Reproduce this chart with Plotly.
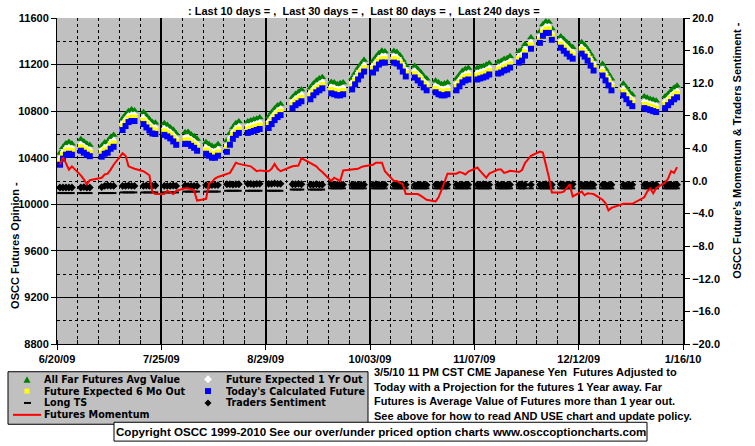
import pandas as pd
import plotly.graph_objects as go

# sessions on the chart (exchange holidays skipped)
FIRST_SESSION = "2009-06-22"
LAST_SESSION = "2010-01-15"
HOLIDAYS = ["2009-07-03", "2009-09-07", "2009-11-26", "2009-12-25", "2010-01-01"]

# left axis series, one value per session, grouped by week
TODAYS_FUTURE = [
    10340, 10392, 10426, 10434, 10426,
    10460, 10443, 10426, 10413, 10409,
    10434, 10443, 10477, 10494,
    10638, 10672, 10706, 10715, 10715,
    10689, 10660, 10634, 10608, 10604,
    10596, 10583, 10566, 10540, 10511,
    10519, 10519, 10502, 10485, 10460,
    10434, 10417, 10400, 10400, 10417,
    10451, 10511, 10562, 10596, 10613,
    10613, 10621, 10630, 10638, 10647,
    10655, 10689, 10723, 10749, 10766,
    10825, 10851, 10868, 10885,
    10902, 10936, 10962, 10979, 10996,
    10953, 10945, 10936, 10936, 10945,
    10987, 11030, 11072, 11106, 11140,
    11132, 11166, 11200, 11217, 11217,
    11217, 11209, 11183, 11140, 11098,
    11089, 11064, 11038, 11004, 10979,
    10962, 10945, 10936, 10936, 10945,
    10979, 11013, 11047, 11064, 11072,
    11072, 11081, 11089, 11098, 11115,
    11123, 11132, 11149, 11157, 11174,
    11217, 11234, 11277, 11336,
    11387, 11447, 11472, 11472, 11413,
    11345, 11319, 11294, 11268, 11251,
    11294, 11268, 11234, 11191, 11149,
    11106, 11064, 11021, 10979,
    10936, 10902, 10868, 10843,
    10826, 10817, 10809, 10800, 10792,
    10826, 10851, 10877, 10902, 10919,
]
SIX_MO_OUT = [
    10370, 10422, 10455, 10463, 10456,
    10490, 10472, 10455, 10443, 10438,
    10463, 10472, 10507, 10523,
    10668, 10702, 10735, 10745, 10744,
    10718, 10690, 10663, 10638, 10633,
    10626, 10612, 10596, 10570, 10540,
    10548, 10549, 10531, 10514, 10490,
    10463, 10446, 10430, 10429, 10446,
    10480, 10540, 10592, 10625, 10642,
    10642, 10650, 10659, 10668, 10676,
    10684, 10718, 10752, 10778, 10795,
    10854, 10880, 10897, 10914,
    10931, 10965, 10991, 11008, 11025,
    10982, 10974, 10965, 10965, 10974,
    11016, 11059, 11101, 11135, 11169,
    11161, 11195, 11229, 11246, 11246,
    11246, 11238, 11212, 11169, 11127,
    11118, 11093, 11067, 11033, 11008,
    10991, 10974, 10965, 10965, 10974,
    11008, 11042, 11076, 11093, 11101,
    11101, 11110, 11118, 11127, 11144,
    11152, 11161, 11178, 11186, 11203,
    11246, 11263, 11306, 11365,
    11416, 11476, 11501, 11501, 11442,
    11374, 11348, 11323, 11297, 11280,
    11323, 11297, 11263, 11220, 11178,
    11135, 11093, 11050, 11008,
    10965, 10931, 10897, 10872,
    10855, 10846, 10838, 10829, 10821,
    10855, 10880, 10906, 10931, 10948,
]
ONE_YR_OUT = [
    10398, 10450, 10484, 10492, 10483,
    10518, 10500, 10484, 10470, 10466,
    10490, 10500, 10535, 10552,
    10695, 10730, 10763, 10772, 10772,
    10746, 10718, 10692, 10665, 10660,
    10653, 10640, 10623, 10598, 10568,
    10576, 10576, 10560, 10542, 10518,
    10490, 10474, 10458, 10457, 10474,
    10508, 10568, 10620, 10653, 10670,
    10670, 10678, 10687, 10695, 10704,
    10712, 10746, 10780, 10806, 10823,
    10882, 10908, 10925, 10942,
    10959, 10993, 11019, 11036, 11053,
    11010, 11002, 10993, 10993, 11002,
    11044, 11087, 11129, 11163, 11197,
    11189, 11223, 11257, 11274, 11274,
    11274, 11266, 11240, 11197, 11155,
    11146, 11121, 11095, 11061, 11036,
    11019, 11002, 10993, 10993, 11002,
    11036, 11070, 11104, 11121, 11129,
    11129, 11138, 11146, 11155, 11172,
    11180, 11189, 11206, 11214, 11231,
    11274, 11291, 11334, 11393,
    11444, 11504, 11529, 11529, 11470,
    11402, 11376, 11351, 11325, 11308,
    11351, 11325, 11291, 11248, 11206,
    11163, 11121, 11078, 11036,
    10993, 10959, 10925, 10900,
    10883, 10874, 10866, 10857, 10849,
    10883, 10908, 10934, 10959, 10976,
]
FAR_FUTURES = [
    10440, 10490, 10522, 10535, 10520,
    10558, 10540, 10520, 10510, 10500,
    10530, 10540, 10575, 10595,
    10735, 10770, 10800, 10815, 10805,
    10790, 10760, 10730, 10705, 10700,
    10695, 10680, 10660, 10640, 10608,
    10618, 10620, 10600, 10585, 10560,
    10532, 10515, 10500, 10495, 10515,
    10548, 10610, 10660, 10695, 10712,
    10710, 10720, 10728, 10735, 10745,
    10752, 10788, 10820, 10848, 10862,
    10920, 10948, 10965, 10985,
    11000, 11035, 11060, 11080, 11092,
    11050, 11045, 11030, 11040, 11045,
    11085, 11128, 11170, 11205, 11240,
    11230, 11265, 11298, 11318, 11312,
    11316, 11308, 11280, 11240, 11195,
    11188, 11162, 11135, 11100, 11078,
    11060, 11045, 11032, 11038, 11045,
    11078, 11110, 11145, 11162, 11170,
    11170, 11180, 11185, 11198, 11212,
    11222, 11230, 11248, 11255, 11272,
    11315, 11332, 11375, 11432,
    11485, 11545, 11570, 11565, 11510,
    11442, 11418, 11392, 11365, 11348,
    11392, 11365, 11332, 11290, 11248,
    11205, 11162, 11120, 11078,
    11035, 11000, 10965, 10940,
    10925, 10915, 10905, 10898, 10890,
    10925, 10948, 10975, 11000, 11018,
]

# right axis series
MOMENTUM = [
    2.0, 2.9, 2.2, 1.4, 1.8,
    0.7, 0.2, -0.4, 0.1, 0.4,
    0.8, 0.9, 1.4, 2.0,
    3.4, 3.1, 1.8, 1.6, 1.5,
    1.2, 1.0, 0.7, -1.4, -1.6,
    -1.6, -1.2, -1.4, -1.6, -1.2,
    -0.9, -0.9, -1.0, -1.2, -2.4,
    -2.2, -0.3, -0.1, 0.3, 0.5,
    0.9, 1.0, 1.6, 2.25, 2.1,
    1.9, 1.8, 1.5, 1.2, 1.3,
    1.2, 1.5, 2.1, 1.5, 1.2,
    1.8, 1.85, 1.9, 2.8,
    2.2, 2.0, 1.8, 1.4, 1.1,
    0.0, 0.4, 0.2, 0.0, 1.3,
    1.4, 1.4, 1.5, 1.7, 1.8,
    2.0, 2.25, 2.25, 2.25, 1.2,
    0.0, 0.0, -0.2, -0.4, -1.6,
    -1.6, -1.6, -1.8, -2.0, -2.3,
    -2.5, -2.0, -1.1, 0.0, 0.9,
    0.9, 1.1, 1.0, 0.8, 1.15,
    1.65, 1.2, 0.8, 0.4, 0.9,
    1.4, 1.4, 1.0, 1.1, 1.25,
    1.1, 1.35, 2.2, 3.1,
    3.6, 3.5, 2.0, 0.5, -1.4,
    -1.4, -1.3, -0.8, -0.4, -1.9,
    -1.3, -1.75, -1.5, -1.55, -1.6,
    -2.3, -2.7, -3.6, -3.3,
    -2.8, -2.8, -2.8, -2.8,
    -2.0, -1.3, -0.9, -1.5, -0.9,
    -0.2, 0.3, 1.2, 1.0, 1.7,
]
SENTIMENT = [
    -0.8, -0.8, -0.8, -0.8, -0.8,
    -0.8, -0.75, -0.8, -0.8, -0.75,
    -0.6, -0.55, -0.6, -0.6,
    -0.6, -0.6, -0.55, -0.6, -0.6,
    -0.6, -0.55, -0.6, -0.6, -0.55,
    -0.6, -0.6, -0.6, -0.55, -0.6,
    -0.55, -0.6, -0.6, -0.6, -0.6,
    -0.5, -0.55, -0.5, -0.5, -0.5,
    -0.4, -0.4, -0.45, -0.4, -0.4,
    -0.35, -0.35, -0.4, -0.35, -0.35,
    -0.35, -0.35, -0.3, -0.35, -0.35,
    -0.4, -0.4, -0.35, -0.4,
    -0.45, -0.45, -0.4, -0.45, -0.45,
    -0.4, -0.45, -0.45, -0.4, -0.45,
    -0.45, -0.45, -0.5, -0.45, -0.45,
    -0.45, -0.4, -0.45, -0.45, -0.45,
    -0.45, -0.45, -0.5, -0.45, -0.45,
    -0.5, -0.45, -0.45, -0.45, -0.5,
    -0.45, -0.45, -0.4, -0.45, -0.45,
    -0.45, -0.5, -0.45, -0.45, -0.45,
    -0.45, -0.45, -0.4, -0.45, -0.45,
    -0.45, -0.45, -0.45, -0.5, -0.45,
    -0.45, -0.4, -0.45, -0.45,
    -0.45, -0.45, -0.4, -0.45, -0.45,
    -0.4, -0.45, -0.45, -0.45, -0.4,
    -0.45, -0.45, -0.45, -0.4, -0.45,
    -0.45, -0.45, -0.5, -0.45,
    -0.45, -0.5, -0.45, -0.45,
    -0.45, -0.45, -0.5, -0.45, -0.45,
    -0.4, -0.45, -0.45, -0.45, -0.45,
]
LONG_TS = (
    [-1.48] * 14
    + [-1.4] * 15
    + [-1.3] * 10
    + [-1.2] * 15
    + [-1.05] * 9
    + [-0.9] * 82
)

TITLE = ": Last 10 days = ,  Last 30 days = ,  Last 80 days = ,  Last 240 days ="
NOTES = [
    "3/5/10 11 PM CST CME Japanese Yen  Futures Adjusted to",
    "Today with a Projection for the futures 1 Year away. Far",
    "Futures is Average Value of Futures more than 1 year out.",
    "See above for how to read AND USE chart and update policy.",
]
COPYRIGHT = "Copyright OSCC 1999-2010 See our over/under priced option charts www.osccoptioncharts.com"

sessions = pd.bdate_range(FIRST_SESSION, LAST_SESSION, freq="C", holidays=HOLIDAYS)
# the original chart draws every session one day early
dates = sessions - pd.Timedelta(days=1)

W, H = 755, 446
PL, PT, PW, PH = 57, 15, 626, 329  # plot area in pixels

BOLD = {"family": "Liberation Sans, Arial, sans-serif", "size": 11, "color": "black", "weight": "bold"}
LEGEND_FONT = {"family": "DejaVu Sans, sans-serif", "size": 9.6, "color": "black", "weight": "bold"}
DAY_MS = 86400000


def px(x):
    return (x - PL) / PW


def py(y):
    return (PT + PH - y) / PH


def path(points):
    return "M " + " L ".join(f"{px(x):.5f},{py(y):.5f}" for x, y in points) + " Z"


fig = go.Figure()

fig.add_trace(go.Scatter(x=dates, y=FAR_FUTURES, mode="markers", name="All Far Futures Avg Value",
                         marker={"symbol": "triangle-up", "size": 7, "color": "#008000", "line": {"width": 0}}))
fig.add_trace(go.Scatter(x=dates, y=ONE_YR_OUT, mode="markers", name="Future Expected 1 Yr Out",
                         marker={"symbol": "diamond", "size": 5, "color": "white", "line": {"width": 0}}))
fig.add_trace(go.Scatter(x=dates, y=SIX_MO_OUT, mode="markers", name="Future Expected 6 Mo Out",
                         marker={"symbol": "square", "size": 6, "color": "#FFFF00", "line": {"width": 0}}))
fig.add_trace(go.Scatter(x=dates, y=TODAYS_FUTURE, mode="markers", name="Today's Calculated Future",
                         marker={"symbol": "square", "size": 6, "color": "#0000FF", "line": {"width": 0}}))
fig.add_trace(go.Scatter(x=dates, y=LONG_TS, mode="markers", name="Long TS", yaxis="y2",
                         marker={"symbol": "line-ew", "size": 4, "line": {"width": 2, "color": "black"}}))
fig.add_trace(go.Scatter(x=dates, y=SENTIMENT, mode="markers", name="Traders Sentiment", yaxis="y2",
                         marker={"symbol": "diamond", "size": 6, "color": "black", "line": {"width": 0}}))
fig.add_trace(go.Scatter(x=dates, y=MOMENTUM, mode="lines", name="Futures Momentum", yaxis="y2",
                         line={"color": "#FF0000", "width": 2}))

ROWS = [379.5, 391.5, 403.5, 415.5]  # legend row centres, pixels

shapes = [
    # legend box
    {"type": "rect", "xref": "paper", "yref": "paper", "x0": px(8), "x1": px(368), "y0": py(372), "y1": py(425),
     "fillcolor": "#C0C0C0", "line": {"color": "black", "width": 1}, "layer": "below"},
    # copyright box
    {"type": "rect", "xref": "paper", "yref": "paper", "x0": px(114), "x1": px(647), "y0": py(423), "y1": py(442),
     "fillcolor": "white", "line": {"color": "black", "width": 1}},
    # legend keys
    {"type": "path", "xref": "paper", "yref": "paper",
     "path": path([(23.5, ROWS[0] + 3.5), (30.5, ROWS[0] + 3.5), (27, ROWS[0] - 3)]),
     "fillcolor": "#008000", "line": {"width": 0}},
    {"type": "rect", "xref": "paper", "yref": "paper", "x0": px(24.5), "x1": px(29.5),
     "y0": py(ROWS[1] - 2.5), "y1": py(ROWS[1] + 2.5), "fillcolor": "#FFFF00", "line": {"width": 0}},
    {"type": "line", "xref": "paper", "yref": "paper", "x0": px(24), "x1": px(31), "y0": py(ROWS[2]), "y1": py(ROWS[2]),
     "line": {"color": "black", "width": 2}},
    {"type": "line", "xref": "paper", "yref": "paper", "x0": px(13), "x1": px(41), "y0": py(ROWS[3]), "y1": py(ROWS[3]),
     "line": {"color": "#FF0000", "width": 2}},
    {"type": "path", "xref": "paper", "yref": "paper",
     "path": path([(204, ROWS[0]), (208, ROWS[0] - 4), (212, ROWS[0]), (208, ROWS[0] + 4)]),
     "fillcolor": "white", "line": {"width": 0}},
    {"type": "rect", "xref": "paper", "yref": "paper", "x0": px(205), "x1": px(211),
     "y0": py(ROWS[1] - 3), "y1": py(ROWS[1] + 3), "fillcolor": "#0000FF", "line": {"width": 0}},
    {"type": "path", "xref": "paper", "yref": "paper",
     "path": path([(204.5, ROWS[2]), (208, ROWS[2] - 3.5), (211.5, ROWS[2]), (208, ROWS[2] + 3.5)]),
     "fillcolor": "black", "line": {"width": 0}},
]

legend_rows = [
    ("All Far Futures Avg Value", 43, ROWS[0]),
    ("Future Expected 6 Mo Out", 43, ROWS[1]),
    ("Long TS", 43, ROWS[2]),
    ("Futures Momentum", 43, ROWS[3]),
    ("Future Expected 1 Yr Out", 225, ROWS[0]),
    ("Today's Calculated Future", 225, ROWS[1]),
    ("Traders Sentiment", 225, ROWS[2]),
]

annotations = [
    {"text": TITLE, "x": px(364), "y": py(8), "xanchor": "center"},
    {"text": "OSCC Futures Opinion -", "x": px(15), "y": py(245), "xanchor": "center", "textangle": -90},
    {"text": "OSCC Future's Momentum &amp; Traders Sentiment -", "x": px(737), "y": py(148),
     "xanchor": "center", "textangle": -90},
    {"text": COPYRIGHT, "x": px(380.5), "y": py(432.5), "xanchor": "center",
     "font": dict(BOLD, size=11.6)},
]
for i, line in enumerate(NOTES):
    annotations.append({"text": line, "x": px(372), "y": py(372 + 15 * i), "xanchor": "left"})
for label, x, y in legend_rows:
    annotations.append({"text": label, "x": px(x), "y": py(y), "xanchor": "left",
                        "font": LEGEND_FONT, "borderpad": 0})
for a in annotations:
    a.setdefault("font", BOLD)
    a.update({"xref": "paper", "yref": "paper", "yanchor": "middle", "showarrow": False})

fig.update_layout(
    width=W,
    height=H,
    margin={"l": PL, "r": W - PL - PW, "t": PT, "b": H - PT - PH, "pad": 0},
    paper_bgcolor="white",
    plot_bgcolor="#C0C0C0",
    showlegend=False,
    hovermode=False,
    font=BOLD,
    shapes=shapes,
    annotations=annotations,
    xaxis={
        "type": "date",
        "range": ["2009-06-20", "2010-01-16"],
        "tick0": "2009-06-20",
        "dtick": 35 * DAY_MS,
        "tickformat": "%-m/%d/%y",
        "tickfont": BOLD,
        "ticks": "outside",
        "ticklen": 5,
        "tickcolor": "black",
        "showgrid": True,
        "gridcolor": "black",
        "gridwidth": 2,
        "showline": True,
        "linecolor": "black",
        "linewidth": 1,
        "zeroline": False,
        "minor": {"tick0": "2009-06-20", "dtick": 7 * DAY_MS, "showgrid": True, "gridcolor": "black",
                  "gridwidth": 1, "griddash": "3px,3px", "ticks": "inside", "ticklen": 4, "tickcolor": "black"},
    },
    yaxis={
        "range": [8800, 11600],
        "dtick": 400,
        "tickformat": "d",
        "tickfont": BOLD,
        "ticks": "outside",
        "ticklen": 5,
        "tickcolor": "black",
        "showgrid": True,
        "gridcolor": "black",
        "gridwidth": 1,
        "showline": True,
        "linecolor": "black",
        "linewidth": 1,
        "zeroline": False,
        "minor": {"dtick": 200, "showgrid": True, "gridcolor": "black", "gridwidth": 1, "griddash": "3px,3px"},
    },
    yaxis2={
        "overlaying": "y",
        "side": "right",
        "range": [-20, 20],
        "dtick": 4,
        "tickformat": ".1f",
        "tickfont": BOLD,
        "ticks": "outside",
        "ticklen": 5,
        "tickcolor": "black",
        "showgrid": False,
        "showline": True,
        "linecolor": "black",
        "linewidth": 2,
        "zeroline": False,
    },
)

# drop the browser's default page margin so the figure sits at the window origin
fig.write_html("out.html", config={"displayModeBar": False},
               post_script="document.body.style.margin = '0';")
